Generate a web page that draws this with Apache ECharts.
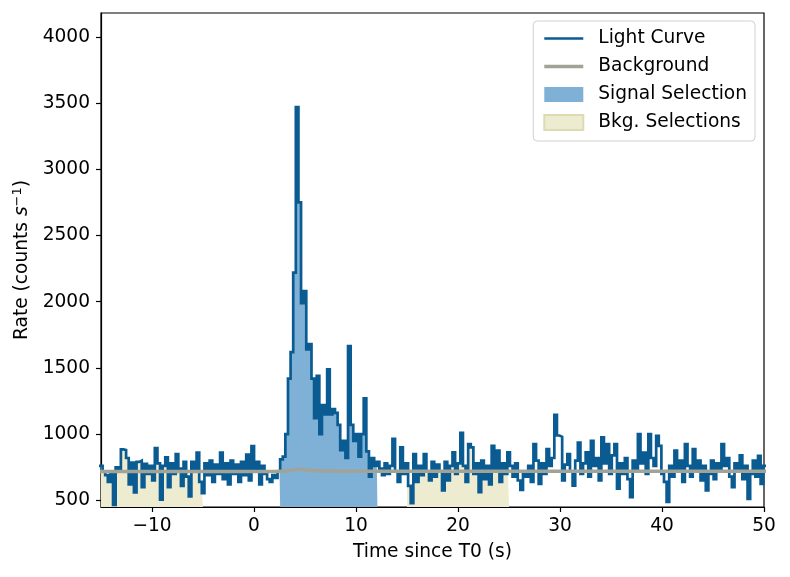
<!DOCTYPE html>
<html>
<head>
<meta charset="utf-8">
<script src="https://cdn.jsdelivr.net/npm/echarts@6/dist/echarts.min.js"></script>
<style>
  html, body { margin: 0; padding: 0; background: #fff; }
  #chart { width: 790px; height: 577px; }
</style>
</head>
<body>
<div id="chart"></div>
<script>
// binned light curve: bins start at binStart, each binWidth seconds wide
const binStart = -15.1;
const binWidth = 0.256;

// rates before the burst (-15.1 .. 2.56 s)
const ratesPre = [
  760, 720, 690, 640, 700, 465, 750, 720, 885, 880, 820, 620, 785, 560, 790, 800,
  600, 775, 700, 760, 650, 895, 780, 505, 760, 825, 600, 780, 700, 850, 740, 610,
  790, 680, 530, 790, 720, 860, 640, 555, 780, 690, 800, 640, 770, 700, 860, 660,
  780, 620, 800, 700, 770, 640, 790, 690, 845, 650, 910, 730, 790, 620, 760, 700,
  660, 640, 690, 670, 720
];
// rates during the burst (2.56 .. 12.29 s)
const ratesBurst = [
  810, 830, 1000, 1420, 1620, 2220, 3470, 2750, 1990, 2080, 1640, 1680, 1420, 1120,
  1440, 1000, 1220, 1150, 1490, 1150, 1190, 1160, 1070, 880, 950, 820, 1665, 1070,
  950, 1000, 830, 1000, 1270, 870, 680, 820, 760, 790
];
// rates after the burst (12.29 .. 50.2 s)
const ratesPost = [
  740, 690, 780, 700, 760, 965, 720, 640, 900, 700, 780, 610, 480, 850, 640, 760,
  690, 850, 720, 650, 790, 680, 770, 720, 575, 790, 650, 760, 862, 700, 780, 1010,
  760, 640, 925, 900, 700, 780, 562, 800, 660, 760, 620, 912, 720, 875, 640, 780,
  700, 862, 760, 680, 780, 650, 580, 720, 680, 760, 640, 925, 800, 625, 780, 700,
  887, 760, 820, 1145, 990, 980, 650, 770, 850, 720, 612, 800, 937, 700, 780, 862,
  680, 950, 760, 820, 650, 975, 780, 925, 700, 840, 925, 588, 780, 700, 820, 660,
  525, 800, 720, 1000, 780, 860, 700, 1000, 820, 760, 987, 912, 700, 640, 488, 760,
  680, 875, 720, 800, 640, 925, 760, 680, 887, 720, 800, 650, 760, 575, 700, 800,
  660, 780, 720, 925, 760, 820, 680, 600, 780, 720, 840, 660, 760, 512, 700, 800,
  680, 837, 625, 760
];

// background model
const bkgTimes = [-15.1, 2.0, 3.5, 4.3, 5.5, 8.0, 50.2];
const bkgRates = [718, 718, 724, 736, 726, 720, 720];

// selections (s)
const signalSel = [2.5, 12.1];
const bkgSels = [[-15.1, -5.0], [15.0, 25.0]];

const xTicks = [-10, 0, 10, 20, 30, 40, 50];
const yTicks = [500, 1000, 1500, 2000, 2500, 3000, 3500, 4000];

const rates = ratesPre.concat(ratesBurst, ratesPost);
const edges = rates.map((_, i) => binStart + i * binWidth);

// step points: each bin drawn as its own left and right corner
const lcData = [];
rates.forEach((r, i) => {
  lcData.push([edges[i], r]);
  lcData.push([edges[i] + binWidth, r]);
});

function rateAt(t) {
  let i = Math.floor((t - binStart) / binWidth);
  i = Math.max(0, Math.min(rates.length - 1, i));
  return rates[i];
}
function selectionData(lo, hi) {
  const pts = [[lo, rateAt(lo)]];
  edges.forEach((e, i) => {
    if (e > lo && e < hi) pts.push([e, rates[i]]);
  });
  pts.push([hi, rateAt(hi - 1e-6)]);
  return pts;
}

const LC_COLOR = '#0b5b93';
const BKG_COLOR = '#a1a396';
const SIG_COLOR = '#7fb0d5';
const BSEL_COLOR = '#eeecd0';
const LINE_ICON = 'path://M0,0 L39,0 L39,2.6 L0,2.6 Z';
const BKG_ICON = 'path://M0,0 L39,0 L39,3.4 L0,3.4 Z';

const fmtMinus = v => String(v).replace('-', '\u2212');

const series = [];
bkgSels.forEach(r => {
  series.push({
    name: 'Bkg. Selections',
    type: 'line',
    step: 'end',
    data: selectionData(r[0], r[1]),
    symbol: 'none',
    lineStyle: { width: 0 },
    itemStyle: { color: BSEL_COLOR, borderColor: '#dedbb0', borderWidth: 1 },
    areaStyle: { color: BSEL_COLOR, opacity: 1, origin: 'start' },
    z: 1,
    silent: true
  });
});
series.push({
  name: 'Signal Selection',
  type: 'line',
  step: 'end',
  data: selectionData(signalSel[0], signalSel[1]),
  symbol: 'none',
  lineStyle: { width: 0 },
  itemStyle: { color: SIG_COLOR },
  areaStyle: { color: SIG_COLOR, opacity: 1, origin: 'start' },
  z: 2,
  silent: true
});
series.push({
  name: 'Light Curve',
  type: 'line',
  data: lcData,
  symbol: 'none',
  sampling: null,
  lineStyle: { color: LC_COLOR, width: 2.7, join: 'miter', cap: 'square' },
  itemStyle: { color: LC_COLOR },
  z: 3
});
series.push({
  name: 'Background',
  type: 'line',
  data: bkgTimes.map((t, i) => [t, bkgRates[i]]),
  symbol: 'none',
  smooth: 0.4,
  lineStyle: { color: BKG_COLOR, width: 3.4 },
  itemStyle: { color: BKG_COLOR },
  z: 4
});

const chart = echarts.init(document.getElementById('chart'), null, { renderer: 'canvas' });

const font = 'DejaVu Sans';
const fs = 18.6;
const option = {
  animation: false,
  backgroundColor: '#ffffff',
  grid: {
    left: 101, right: 26, top: 13, bottom: 70,
    show: true, borderColor: '#000', borderWidth: 1.2, backgroundColor: 'transparent'
  },
  legend: {
    orient: 'vertical',
    right: 35,
    top: 21,
    padding: [8, 8, 9, 10],
    itemWidth: 39,
    itemHeight: 15,
    itemGap: 9,
    backgroundColor: '#fff',
    borderColor: '#d0d0d0',
    borderWidth: 1,
    borderRadius: 4,
    textStyle: { fontFamily: font, fontSize: fs, lineHeight: 18, color: '#000', padding: [0, 0, 0, 10] },
    data: [
      { name: 'Light Curve', icon: LINE_ICON },
      { name: 'Background', icon: BKG_ICON },
      { name: 'Signal Selection', icon: 'rect' },
      { name: 'Bkg. Selections', icon: 'rect' }
    ]
  },
  xAxis: {
    type: 'value',
    min: -15,
    max: 50,
    name: 'Time since T0 (s)',
    nameLocation: 'middle',
    nameGap: 36,
    nameTextStyle: { fontFamily: font, fontSize: fs, color: '#000' },
    axisLine: { show: true, onZero: false, lineStyle: { color: '#000', width: 1.2 } },
    axisTick: { show: true, customValues: xTicks, length: 5, lineStyle: { color: '#000', width: 1.2 } },
    axisLabel: {
      customValues: xTicks, margin: 10,
      fontFamily: font, fontSize: fs, color: '#000', formatter: fmtMinus
    },
    splitLine: { show: false }
  },
  yAxis: {
    type: 'value',
    min: 450,
    max: 4180,
    name: '{t|Rate (counts }{i|s}{s|\u22121}{t|)}',
    nameLocation: 'middle',
    nameGap: 64,
    nameTextStyle: {
      fontFamily: font, fontSize: fs, color: '#000',
      rich: {
        t: { fontFamily: font, fontSize: fs, color: '#000' },
        i: { fontFamily: font, fontSize: fs, fontStyle: 'italic', color: '#000' },
        s: { fontFamily: font, fontSize: 13, color: '#000', verticalAlign: 'top', padding: [0, 0, 9, 0] }
      }
    },
    axisLine: { show: true, onZero: false, lineStyle: { color: '#000', width: 1.2 } },
    axisTick: { show: true, customValues: yTicks, length: 5, lineStyle: { color: '#000', width: 1.2 } },
    axisLabel: {
      customValues: yTicks, margin: 11,
      fontFamily: font, fontSize: fs, color: '#000', formatter: v => String(v)
    },
    splitLine: { show: false }
  },
  series: series
};

chart.setOption(option);
</script>
</body>
</html>
